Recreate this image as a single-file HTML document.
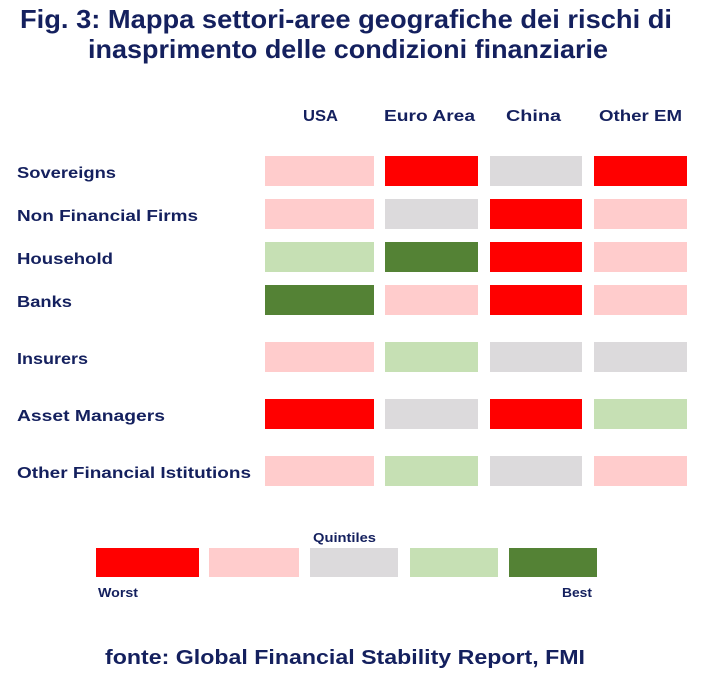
<!DOCTYPE html>
<html><head><meta charset="utf-8"><style>
html,body{margin:0;padding:0;background:#fff;width:708px;height:677px;overflow:hidden}
svg{display:block}
text{font-family:"Liberation Sans",sans-serif;font-weight:bold;fill:#14205e}
</style></head><body>
<svg width="708" height="677" viewBox="0 0 708 677" xmlns="http://www.w3.org/2000/svg">
<text x="20" y="28" font-size="26" textLength="652" lengthAdjust="spacingAndGlyphs">Fig. 3: Mappa settori-aree geografiche dei rischi di</text>
<text x="88" y="58" font-size="26" textLength="520" lengthAdjust="spacingAndGlyphs">inasprimento delle condizioni finanziarie</text>
<g font-size="16">
<text x="303" y="121" textLength="35" lengthAdjust="spacingAndGlyphs">USA</text>
<text x="384" y="121" textLength="91" lengthAdjust="spacingAndGlyphs">Euro Area</text>
<text x="506" y="121" textLength="55" lengthAdjust="spacingAndGlyphs">China</text>
<text x="599" y="121" textLength="83" lengthAdjust="spacingAndGlyphs">Other EM</text>
</g>
<g font-size="16">
<text x="17" y="178" textLength="99" lengthAdjust="spacingAndGlyphs">Sovereigns</text>
<text x="17" y="221" textLength="181" lengthAdjust="spacingAndGlyphs">Non Financial Firms</text>
<text x="17" y="264" textLength="96" lengthAdjust="spacingAndGlyphs">Household</text>
<text x="17" y="307" textLength="55" lengthAdjust="spacingAndGlyphs">Banks</text>
<text x="17" y="364" textLength="71" lengthAdjust="spacingAndGlyphs">Insurers</text>
<text x="17" y="421" textLength="148" lengthAdjust="spacingAndGlyphs">Asset Managers</text>
<text x="17" y="478" textLength="234" lengthAdjust="spacingAndGlyphs">Other Financial Istitutions</text>
</g>
<g>
<!-- columns x: 265/109, 385/93, 490/92, 594/93 -->
<rect x="265" y="156" width="109" height="30" fill="#ffcccc"/>
<rect x="385" y="156" width="93" height="30" fill="#ff0000"/>
<rect x="490" y="156" width="92" height="30" fill="#dcdadc"/>
<rect x="594" y="156" width="93" height="30" fill="#ff0000"/>

<rect x="265" y="199" width="109" height="30" fill="#ffcccc"/>
<rect x="385" y="199" width="93" height="30" fill="#dcdadc"/>
<rect x="490" y="199" width="92" height="30" fill="#ff0000"/>
<rect x="594" y="199" width="93" height="30" fill="#ffcccc"/>

<rect x="265" y="242" width="109" height="30" fill="#c6e0b4"/>
<rect x="385" y="242" width="93" height="30" fill="#548235"/>
<rect x="490" y="242" width="92" height="30" fill="#ff0000"/>
<rect x="594" y="242" width="93" height="30" fill="#ffcccc"/>

<rect x="265" y="285" width="109" height="30" fill="#548235"/>
<rect x="385" y="285" width="93" height="30" fill="#ffcccc"/>
<rect x="490" y="285" width="92" height="30" fill="#ff0000"/>
<rect x="594" y="285" width="93" height="30" fill="#ffcccc"/>

<rect x="265" y="342" width="109" height="30" fill="#ffcccc"/>
<rect x="385" y="342" width="93" height="30" fill="#c6e0b4"/>
<rect x="490" y="342" width="92" height="30" fill="#dcdadc"/>
<rect x="594" y="342" width="93" height="30" fill="#dcdadc"/>

<rect x="265" y="399" width="109" height="30" fill="#ff0000"/>
<rect x="385" y="399" width="93" height="30" fill="#dcdadc"/>
<rect x="490" y="399" width="92" height="30" fill="#ff0000"/>
<rect x="594" y="399" width="93" height="30" fill="#c6e0b4"/>

<rect x="265" y="456" width="109" height="30" fill="#ffcccc"/>
<rect x="385" y="456" width="93" height="30" fill="#c6e0b4"/>
<rect x="490" y="456" width="92" height="30" fill="#dcdadc"/>
<rect x="594" y="456" width="93" height="30" fill="#ffcccc"/>
</g>
<text x="313" y="542" font-size="13" textLength="63" lengthAdjust="spacingAndGlyphs">Quintiles</text>
<rect x="96" y="548" width="103" height="29" fill="#ff0000"/>
<rect x="209" y="548" width="90" height="29" fill="#ffcccc"/>
<rect x="310" y="548" width="88" height="29" fill="#dcdadc"/>
<rect x="410" y="548" width="88" height="29" fill="#c6e0b4"/>
<rect x="509" y="548" width="88" height="29" fill="#548235"/>
<text x="98" y="597" font-size="13" textLength="40" lengthAdjust="spacingAndGlyphs">Worst</text>
<text x="562" y="597" font-size="13" textLength="30" lengthAdjust="spacingAndGlyphs">Best</text>
<text x="105" y="664" font-size="20" textLength="480" lengthAdjust="spacingAndGlyphs">fonte: Global Financial Stability Report, FMI</text>
</svg>
</body></html>
